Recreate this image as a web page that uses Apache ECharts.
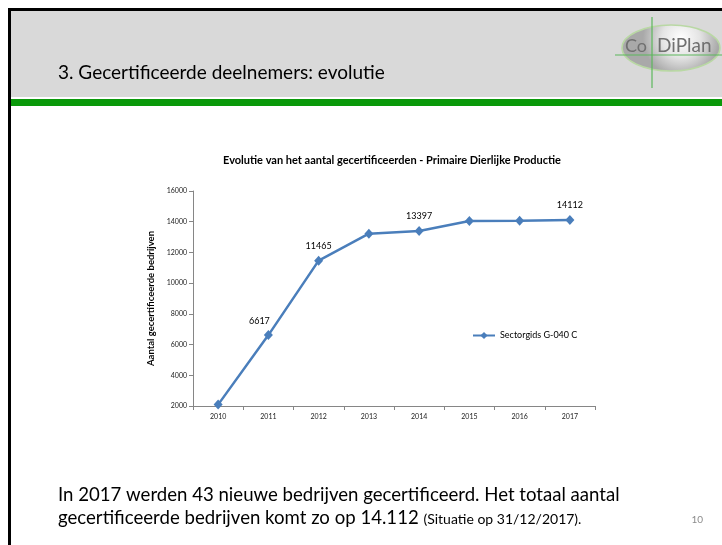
<!DOCTYPE html>
<html>
<head>
<meta charset="utf-8">
<script src="https://cdn.jsdelivr.net/npm/echarts@6/dist/echarts.min.js"></script>
<style>
html,body{margin:0;padding:0;background:#fff;}
#chart{width:722px;height:545px;}
</style>
</head>
<body>
<div id="chart"></div>
<script>
// ---- data ----
const years = ['2010', '2011', '2012', '2013', '2014', '2015', '2016', '2017'];
const certified = [2090, 6617, 11465, 13220, 13397, 14040, 14069, 14112];
const labeledYears = ['2011', '2012', '2014', '2017'];
const seriesName = 'Sectorgids G-040 C';
const chartTitle = 'Evolutie van het aantal gecertificeerden - Primaire Dierlijke Productie';
const yAxisTitle = 'Aantal gecertificeerde bedrijven';
const slideTitle = '3. Gecertificeerde deelnemers: evolutie';
const bodyLine1 = 'In 2017 werden 43 nieuwe bedrijven gecertificeerd. Het totaal aantal';
const bodyLine2a = 'gecertificeerde bedrijven komt zo op 14.112 ';
const bodyLine2b = '(Situatie op 31/12/2017).';
const pageNumber = '10';
const yMin = 2000, yMax = 16000, yStep = 2000;

const FONT = 'Lato, "Open Sans", sans-serif';
const chart = echarts.init(document.getElementById('chart'), null, {renderer: 'canvas'});

const seriesData = certified.map((v, i) => {
  const item = {value: v, name: years[i]};
  if (years[i] === '2011') item.label = {offset: [-9, 0]};
  return item;
});

chart.setOption({
  animation: false,
  backgroundColor: '#ffffff',
  textStyle: {fontFamily: FONT},
  grid: {left: 193, top: 191, width: 402, height: 215, containLabel: false},
  legend: {
    data: [seriesName],
    left: 467, top: 326,
    itemWidth: 22, itemHeight: 9,
    textStyle: {fontSize: 9, color: '#000', fontFamily: FONT},
    itemGap: 2
  },
  xAxis: {
    type: 'category',
    data: years,
    boundaryGap: true,
    axisLine: {lineStyle: {color: '#868686', width: 1}},
    axisTick: {show: true, length: 4, lineStyle: {color: '#868686'}},
    axisLabel: {fontSize: 7, color: '#222', margin: 7, fontFamily: FONT}
  },
  yAxis: {
    type: 'value',
    min: yMin, max: yMax, interval: yStep,
    name: yAxisTitle,
    nameLocation: 'middle',
    nameGap: 32,
    nameRotate: 90,
    nameTextStyle: {fontSize: 9.5, fontWeight: 'bold', color: '#000', fontFamily: FONT},
    axisLine: {show: true, lineStyle: {color: '#868686', width: 1}},
    axisTick: {show: true, length: 4, lineStyle: {color: '#868686'}},
    splitLine: {show: false},
    axisLabel: {fontSize: 7, color: '#222', margin: 6, fontFamily: FONT, formatter: v => String(v)}
  },
  series: [{
    name: seriesName,
    type: 'line',
    data: seriesData,
    symbol: 'diamond',
    symbolSize: [9, 10],
    lineStyle: {color: '#4a7ebb', width: 2.5},
    itemStyle: {color: '#4a7ebb'},
    label: {
      show: true,
      position: 'top',
      distance: 5,
      fontSize: 9,
      color: '#000',
      fontFamily: FONT,
      formatter: p => labeledYears.includes(p.name) ? String(p.value) : ''
    }
  }],
  graphic: [
    // slide frame and header
    {type: 'rect', shape: {x: 11, y: 11, width: 711, height: 86}, style: {fill: '#d9d9d9'}, silent: true, z: -10},
    {type: 'rect', shape: {x: 11, y: 99, width: 711, height: 7}, style: {fill: '#0a990a'}, silent: true, z: -10},
    {type: 'rect', shape: {x: 8, y: 8, width: 714, height: 3}, style: {fill: '#000'}, silent: true, z: -9},
    {type: 'rect', shape: {x: 8, y: 8, width: 3, height: 537}, style: {fill: '#000'}, silent: true, z: -9},
    // logo
    {type: 'ellipse', shape: {cx: 671, cy: 48, rx: 49, ry: 23},
      style: {
        fill: new echarts.graphic.RadialGradient(0.6, 0.3, 0.8, [
          {offset: 0, color: '#ffffff'}, {offset: 0.5, color: '#e4e4e4'}, {offset: 1, color: '#a9a9a9'}
        ]),
        stroke: '#b9d8a4', lineWidth: 1.5
      }, silent: true, z: -8},
    {type: 'line', shape: {x1: 652, y1: 17, x2: 652, y2: 88}, style: {stroke: '#5cb85c', lineWidth: 1.2}, silent: true, z: -7},
    {type: 'line', shape: {x1: 615, y1: 55, x2: 722, y2: 55}, style: {stroke: '#5cb85c', lineWidth: 1.2}, silent: true, z: -7},
    {type: 'text', x: 625, y: 55, style: {text: 'Co', fill: '#707070', font: '18px ' + FONT, textAlign: 'left', textVerticalAlign: 'bottom'}, silent: true, z: -6},
    {type: 'text', x: 657, y: 55, style: {text: 'DiPlan', fill: '#707070', font: '19px ' + FONT, textAlign: 'left', textVerticalAlign: 'bottom'}, silent: true, z: -6},
    // slide title
    {type: 'text', x: 58, y: 73, style: {text: slideTitle, fill: '#000', font: '19px ' + FONT, textAlign: 'left', textVerticalAlign: 'middle'}, silent: true},
    // chart title
    {type: 'text', x: 392, y: 160, style: {text: chartTitle, fill: '#000', font: 'bold 11px ' + FONT, textAlign: 'center', textVerticalAlign: 'middle'}, silent: true},
    // body text
    {type: 'text', x: 58, y: 495, style: {text: bodyLine1, fill: '#000', font: '18.6px ' + FONT, textAlign: 'left', textVerticalAlign: 'middle'}, silent: true},
    {type: 'text', x: 58, y: 518, style: {
      text: '{a|' + bodyLine2a + '}{b|' + bodyLine2b + '}',
      textAlign: 'left', textVerticalAlign: 'middle',
      rich: {
        a: {fontSize: 18.6, fontFamily: FONT, color: '#000'},
        b: {fontSize: 14, fontFamily: FONT, color: '#000', padding: [3, 0, 0, 0]}
      }
    }, silent: true},
    {type: 'text', x: 703, y: 520, style: {text: pageNumber, fill: '#8c8c8c', font: '10px ' + FONT, textAlign: 'right', textVerticalAlign: 'middle'}, silent: true}
  ]
});
</script>
</body>
</html>
